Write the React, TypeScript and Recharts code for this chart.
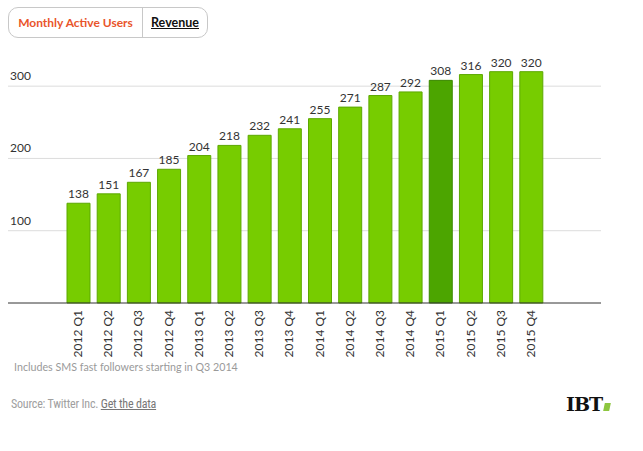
import React from "react";
import { BarChart, Bar, XAxis, YAxis, CartesianGrid, LabelList, Cell } from "recharts";

const quarters = [
  "2012 Q1", "2012 Q2", "2012 Q3", "2012 Q4",
  "2013 Q1", "2013 Q2", "2013 Q3", "2013 Q4",
  "2014 Q1", "2014 Q2", "2014 Q3", "2014 Q4",
  "2015 Q1", "2015 Q2", "2015 Q3", "2015 Q4",
];
const users = [138, 151, 167, 185, 204, 218, 232, 241, 255, 271, 287, 292, 308, 316, 320, 320];
const highlighted = "2015 Q1";
const yTicks = [100, 200, 300];

const FONT = "Lato, 'Open Sans', sans-serif";
const GREEN = "#77cc00";
const GREEN_EDGE = "#5ca800";
const DARK = "#4ca500";
const DARK_EDGE = "#3a8800";

const data = quarters.map((q, i) => ({ q, users: users[i] }));

function XTick(props: any) {
  const { x, payload } = props;
  return (
    <g transform={`translate(${x},${303})`}>
      <text transform="rotate(-90)" x={-7} y={0} dy={4} textAnchor="end"
        fontSize={12} fill="#333" fontFamily={FONT}>
        {payload.value}
      </text>
    </g>
  );
}

function YTick(props: any) {
  const { y, payload } = props;
  return (
    <text x={10} y={y - 6} textAnchor="start" fontSize={12} fill="#333" fontFamily={FONT}>
      {payload.value}
    </text>
  );
}

export default function App() {
  return (
    <div style={{ position: "absolute", left: 0, top: 0, width: 643, height: 451, background: "#fff", fontFamily: FONT }}>
      {/* toggle buttons */}
      <div style={{
        position: "absolute", left: 8, top: 7, width: 198, height: 29,
        border: "1px solid #c8c8c8", borderRadius: 10, display: "flex",
        fontSize: 12, fontWeight: 700, lineHeight: "29px",
      }}>
        <div style={{ width: 133, textAlign: "center", color: "#e9552b", borderRight: "1px solid #c8c8c8" }}>
          Monthly Active Users
        </div>
        <div style={{ flex: 1, textAlign: "center", color: "#111", textDecoration: "underline", fontSize: 12.5 }}>
          Revenue
        </div>
      </div>

      <div style={{ position: "absolute", left: 0, top: 0 }}>
        <BarChart width={643} height={380} data={data}
          margin={{ top: 50, right: 42, bottom: 17, left: 7 }}>
          <CartesianGrid horizontal vertical={false} stroke="#dcdcdc" horizontalValues={yTicks} />
          <XAxis dataKey="q" interval={0} height={60} tick={<XTick />}
            tickLine={false} axisLine={{ stroke: "#333" }}
            padding={{ left: 55, right: 55 }} />
          <YAxis width={1} domain={[0, 350]} ticks={yTicks} tick={<YTick />}
            axisLine={false} tickLine={false} interval={0} />
          <Bar dataKey="users" barSize={23} isAnimationActive={false}>
            {data.map((d) => (
              <Cell key={d.q}
                fill={d.q === highlighted ? DARK : GREEN}
                stroke={d.q === highlighted ? DARK_EDGE : GREEN_EDGE}
                strokeWidth={1} />
            ))}
            <LabelList dataKey="users" position="top" offset={5}
              fontSize={12} fill="#333" fontFamily={FONT} />
          </Bar>
        </BarChart>
      </div>

      <div style={{ position: "absolute", left: 14, top: 360, fontSize: 10.7, color: "#9a9a9a" }}>
        Includes SMS fast followers starting in Q3 2014
      </div>

      <div style={{
        position: "absolute", left: 11, top: 397, fontSize: 12, color: "#a0a0a0",
        fontFamily: "'Liberation Sans Narrow', 'Roboto Condensed', Lato, sans-serif", letterSpacing: -0.2,
      }}>
        Source: Twitter Inc.{" "}
        <span style={{ color: "#777", textDecoration: "underline" }}>Get the data</span>
      </div>

      {/* IBT logo */}
      <div style={{ position: "absolute", left: 566, top: 393, display: "flex", alignItems: "flex-end" }}>
        <span style={{ fontFamily: "'DejaVu Serif', serif", fontWeight: 900, fontSize: 19, color: "#111", letterSpacing: -1, lineHeight: "22px" }}>
          IBT
        </span>
        <span style={{ display: "inline-block", width: 6, height: 8, background: "#8dc63f", transform: "skewX(-12deg)", marginLeft: 2, marginBottom: 4 }} />
      </div>
    </div>
  );
}
